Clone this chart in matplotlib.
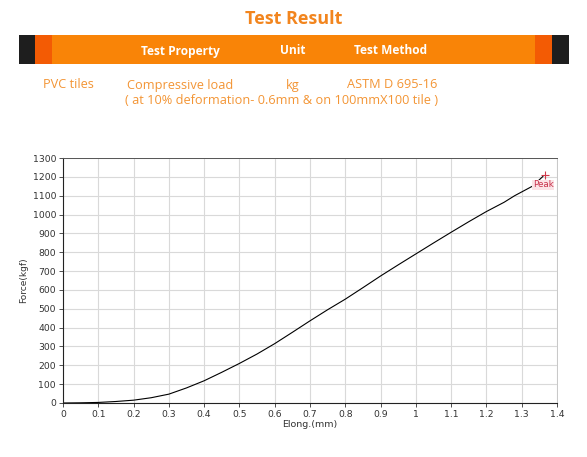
import matplotlib
matplotlib.use("Agg")
import matplotlib.pyplot as plt
from matplotlib.patches import Rectangle

# ---- data ----
elong = [0.00, 0.05, 0.10, 0.15, 0.20, 0.25, 0.30, 0.35, 0.40, 0.45, 0.50,
         0.55, 0.60, 0.65, 0.70, 0.75, 0.80, 0.85, 0.90, 0.95, 1.00, 1.05,
         1.10, 1.15, 1.20, 1.25, 1.28, 1.30, 1.33, 1.36]
force = [0, 1, 3, 8, 15, 28, 47, 80, 118, 163, 210, 260, 315, 375, 436,
         495, 551, 612, 674, 733, 791, 849, 906, 962, 1016, 1065, 1100,
         1120, 1150, 1202]
peak_x, peak_y = 1.366, 1212
xticks = [0, 0.1, 0.2, 0.3, 0.4, 0.5, 0.6, 0.7, 0.8, 0.9, 1, 1.1, 1.2, 1.3, 1.4]
xtick_labels = ["0", "0.1", "0.2", "0.3", "0.4", "0.5", "0.6", "0.7", "0.8",
                "0.9", "1", "1.1", "1.2", "1.3", "1.4"]
yticks = list(range(0, 1301, 100))

header_cols = ["Test Property", "Unit", "Test Method"]
row_vals = ["PVC tiles", "Compressive load", "kg", "ASTM D 695-16"]
row_note = "( at 10% deformation- 0.6mm & on 100mmX100 tile )"

W, H = 587, 457
fig = plt.figure(figsize=(W / 100, H / 100), dpi=100)
fig.patch.set_facecolor("white")

def fx(px):
    return px / W

def fy(py):
    return 1 - py / H

ORANGE = "#F98407"
RED_OR = "#F35B04"
BLACK = "#1E1E1E"
TXT_OR = "#F39535"
ROW_FS = 9.2

# ---- header ----
fig.text(fx(294), fy(19), "Test Result", ha="center", va="center",
         fontsize=13, fontweight="bold", color="#F2851E", family="Open Sans")

bar_top, bar_bot = 35, 64
def rect(x0, x1, c):
    fig.patches.append(Rectangle((fx(x0), fy(bar_bot)), fx(x1) - fx(x0),
                                 fy(bar_top) - fy(bar_bot),
                                 transform=fig.transFigure, color=c, lw=0))
rect(19, 569, ORANGE)
rect(19, 35, BLACK)
rect(35, 52, RED_OR)
rect(535, 552, RED_OR)
rect(552, 569, BLACK)

for txt, cx in zip(header_cols, [180, 293, 391]):
    fig.text(fx(cx), fy(51), txt, ha="center", va="center", fontsize=8.6,
             fontweight="bold", color="white", family="Open Sans")

fig.text(fx(43), fy(85), row_vals[0], ha="left", va="center", fontsize=ROW_FS,
         color=TXT_OR, family="Open Sans")
fig.text(fx(127), fy(85), row_vals[1], ha="left", va="center", fontsize=ROW_FS,
         color=TXT_OR, family="Open Sans")
fig.text(fx(293), fy(85), row_vals[2], ha="center", va="center", fontsize=ROW_FS,
         color=TXT_OR, family="Open Sans")
fig.text(fx(347), fy(85), row_vals[3], ha="left", va="center", fontsize=ROW_FS,
         color=TXT_OR, family="Open Sans")
fig.text(fx(125), fy(101), row_note, ha="left", va="center", fontsize=ROW_FS,
         color=TXT_OR, family="Open Sans")

# ---- chart ----
ax = fig.add_axes([fx(63), fy(403), fx(557) - fx(63), fy(158) - fy(403)])
ax.plot(elong, force, color="black", lw=0.8)
ax.set_xlim(0, 1.4)
ax.set_ylim(0, 1300)
ax.set_xticks(xticks)
ax.set_xticklabels(xtick_labels)
ax.set_yticks(yticks)
ax.grid(True, color="#D9D9D9", lw=0.8)
ax.set_axisbelow(True)
ax.tick_params(axis="both", labelsize=6.7, colors="#333333", length=3,
               width=0.6, pad=2)
for s in ["left", "bottom"]:
    ax.spines[s].set_color("#222222")
    ax.spines[s].set_linewidth(0.8)
ax.spines["top"].set_color("#555555")
ax.spines["top"].set_linewidth(0.7)
ax.spines["right"].set_color("#C8C8C8")
ax.spines["right"].set_linewidth(0.7)

ax.plot([peak_x], [peak_y], marker="+", color="#D23A4A", ms=6, mew=0.8)
ax.text(peak_x - 0.035, peak_y - 55, "Peak", fontsize=6.3, color="#C8304A",
        ha="left", va="center", clip_on=True,
        bbox=dict(boxstyle="square,pad=0.1", fc="#FBE3E6", ec="none"))

ax.set_xlabel("Elong.(mm)", fontsize=6.8, color="#333333", labelpad=1)
ax.set_ylabel("Force(kgf)", fontsize=6.5, color="#333333", labelpad=3,
              family="Liberation Sans Narrow")

fig.savefig("out.png", dpi=100)
